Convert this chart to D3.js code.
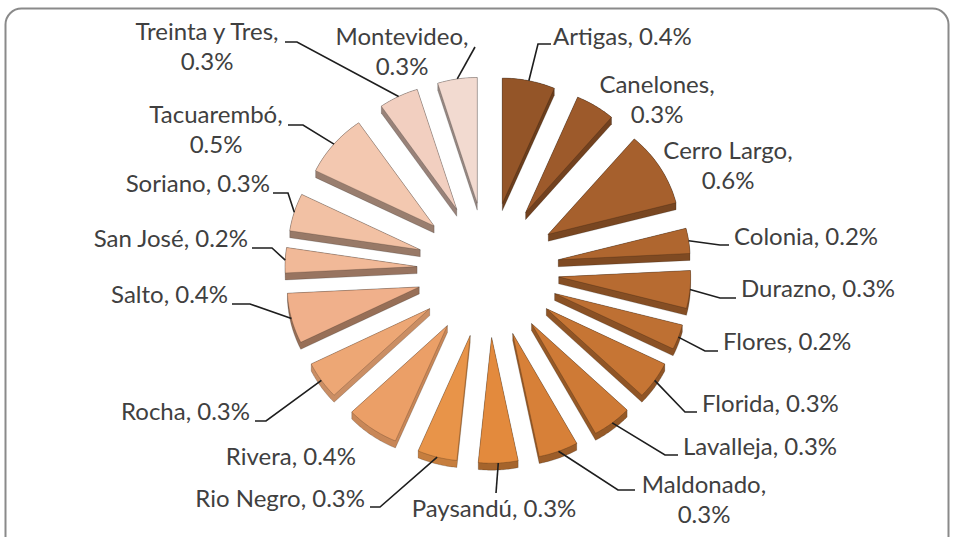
<!DOCTYPE html>
<html>
<head>
<meta charset="utf-8">
<script src="https://cdn.jsdelivr.net/npm/d3@7"></script>
<style>
  body { margin: 0; background: #fff; }
  .lbl { font-family: Lato, "Open Sans", sans-serif; font-size: 24px; fill: #404040; }
</style>
</head>
<body>
<svg id="chart" width="957" height="537"></svg>
<script>
// Departments (clockwise from 12 o'clock) and their share, in %
const regions = ['Artigas', 'Canelones', 'Cerro Largo', 'Colonia', 'Durazno', 'Flores',
  'Florida', 'Lavalleja', 'Maldonado', 'Paysandú', 'Rio Negro', 'Rivera', 'Rocha',
  'Salto', 'San José', 'Soriano', 'Tacuarembó', 'Treinta y Tres', 'Montevideo'];
const shares = [0.4, 0.3, 0.6, 0.2, 0.3, 0.2, 0.3, 0.3, 0.3, 0.3, 0.3, 0.4, 0.3,
  0.4, 0.2, 0.3, 0.5, 0.3, 0.3];
const colors = ['#945528', '#9d5a2b', '#a6602d', '#af662f', '#b76b31', '#be7033',
  '#c67534', '#ce7a36', '#d78038', '#e38a3d', '#e89449', '#eb9f67', '#eda775',
  '#f0b08b', '#f1b998', '#f2c1a4', '#f3c8b0', '#f2cfc0', '#f2dad0'];

// label placement: text anchor point, alignment, lines, and optional leader elbow/end
const labelLayout = [
  { x: 553, y: 45, anchor: 'start', two: false, leader: [[538, 44], [551, 44]] },
  { x: 657, y: 93, anchor: 'middle', two: true, leader: null },
  { x: 728, y: 159, anchor: 'middle', two: true, leader: null },
  { x: 734, y: 245, anchor: 'start', two: false, leader: [[720, 245], [729, 245]] },
  { x: 741, y: 297, anchor: 'start', two: false, leader: [[720, 298], [736, 298]] },
  { x: 723, y: 350, anchor: 'start', two: false, leader: [[705, 351], [718, 351]] },
  { x: 702, y: 412, anchor: 'start', two: false, leader: [[685, 412], [697, 412]] },
  { x: 683, y: 455, anchor: 'start', two: false, leader: [[665, 455], [678, 455]] },
  { x: 704, y: 493, anchor: 'middle', two: true, leader: [[618, 490], [635, 490]] },
  { x: 494, y: 517, anchor: 'middle', two: false, leader: [[496, 493], [496, 493]] },
  { x: 365, y: 507, anchor: 'end', two: false, leader: [[380, 507], [370, 507]] },
  { x: 356, y: 465, anchor: 'end', two: false, leader: null },
  { x: 250, y: 420, anchor: 'end', two: false, leader: [[266, 421], [255, 421]] },
  { x: 228, y: 303, anchor: 'end', two: false, leader: [[250, 304], [232, 304]] },
  { x: 248, y: 247, anchor: 'end', two: false, leader: [[272, 248], [252, 248]] },
  { x: 270, y: 192, anchor: 'end', two: false, leader: [[288, 193], [273, 193]] },
  { x: 216, y: 123, anchor: 'middle', two: true, leader: [[303, 125], [288, 125]] },
  { x: 207, y: 40, anchor: 'middle', two: true, leader: [[297, 42], [285, 42]] },
  { x: 402, y: 45, anchor: 'middle', two: true, leader: [[475, 47], [475, 47]] }
];

const svg = d3.select('#chart');

// chart frame (bottom runs off the picture)
svg.append('rect')
  .attr('x', 5.5).attr('y', 8.5)
  .attr('width', 943).attr('height', 570)
  .attr('rx', 16)
  .attr('fill', 'none')
  .attr('stroke', '#8a8a8a')
  .attr('stroke-width', 2);

const cx = 488, cy = 270;      // pie centre
const R = 132;                 // slice radius
const explode = 71;            // how far each slice is pulled out
const tilt = 0.952;            // vertical squash of the 3D view
const depth = 7;               // slice thickness

const rows = regions.map((name, i) => ({ name, value: shares[i], color: colors[i], lab: labelLayout[i] }));
const arcs = d3.pie().sort(null).value(d => d.value)(rows);

// polar -> screen, with tilt
const proj = (r, a, off) => [cx + off[0] + r * Math.sin(a), cy + (off[1] - r * Math.cos(a)) * tilt];

arcs.forEach(a => {
  a.mid = (a.startAngle + a.endAngle) / 2;
  a.off = [explode * Math.sin(a.mid), -explode * Math.cos(a.mid)];
  const pts = [proj(0, 0, a.off)];
  const n = 24;
  for (let k = 0; k <= n; k++) {
    const t = a.startAngle + (a.endAngle - a.startAngle) * k / n;
    pts.push(proj(R, t, a.off));
  }
  a.pts = pts;
  a.anchorPt = proj(R, a.mid, a.off);
});

// side shade: upper-left slices sit in shadow, lower-left ones catch the light
const sideShade = a => {
  const deg = a.mid * 180 / Math.PI;
  if (deg > 255) return d3.color(a.data.color).darker(1.3);
  if (deg > 190) return d3.color(a.data.color).darker(0.45);
  return d3.color(a.data.color).darker(0.9);
};

const line = d3.line().curve(d3.curveLinearClosed);
const gPie = svg.append('g');

// back to front
arcs.slice().sort((p, q) => p.anchorPt[1] - q.anchorPt[1]).forEach(a => {
  const g = gPie.append('g');
  const lowered = a.pts.map(p => [p[0], p[1] + depth]);
  const hull = d3.polygonHull(a.pts.concat(lowered));
  g.append('path')
    .attr('d', line(hull))
    .attr('fill', sideShade(a))
    .attr('stroke', 'rgba(0,0,0,0.3)')
    .attr('stroke-width', 0.6);
  g.append('path')
    .attr('d', line(a.pts))
    .attr('fill', a.data.color)
    .attr('stroke', 'rgba(0,0,0,0.3)')
    .attr('stroke-width', 0.6);
});

// leader lines
const gLead = svg.append('g');
arcs.forEach(a => {
  const L = a.data.lab.leader;
  if (!L) return;
  gLead.append('path')
    .attr('d', d3.line()([a.anchorPt, L[0], L[1]]))
    .attr('fill', 'none')
    .attr('stroke', '#1e1e1e')
    .attr('stroke-width', 1.6);
});

// labels
const fmt = v => d3.format('.1f')(v) + '%';
const gLab = svg.append('g');
arcs.forEach(a => {
  const L = a.data.lab;
  const t = gLab.append('text')
    .attr('class', 'lbl')
    .attr('x', L.x).attr('y', L.y)
    .attr('text-anchor', L.anchor);
  if (L.two) {
    t.append('tspan').attr('x', L.x).text(a.data.name + ',');
    t.append('tspan').attr('x', L.x).attr('dy', 30).text(fmt(a.data.value));
  } else {
    t.text(a.data.name + ', ' + fmt(a.data.value));
  }
});
</script>
</body>
</html>
